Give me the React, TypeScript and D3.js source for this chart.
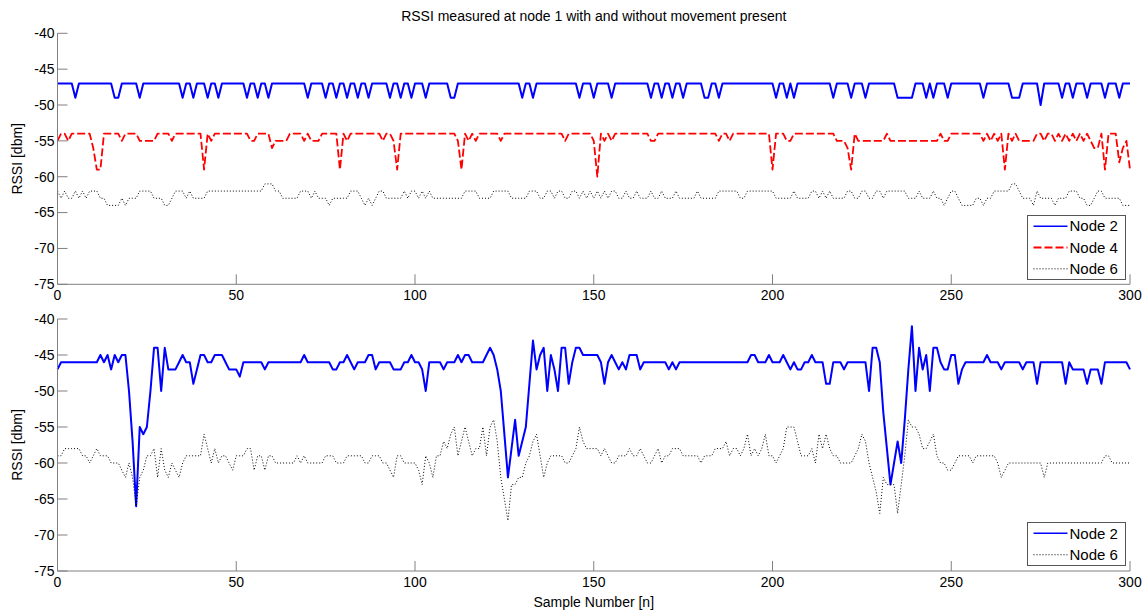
import React from 'react';
import * as d3 from 'd3';

const title = 'RSSI measured at node 1 with and without movement present';
const xTicks = [0, 50, 100, 150, 200, 250, 300];
const yTicks = [-40, -45, -50, -55, -60, -65, -70, -75];
const yLabel = 'RSSI [dbm]';
const xLabel = 'Sample Number [n]';

// Top panel (no movement)
const topNode2 = [
  -47,-47,-47,-47,-47,-49,-47,-47,-47,-47,
  -47,-47,-47,-47,-47,-47,-49,-49,-47,-47,
  -47,-47,-47,-49,-47,-47,-47,-47,-47,-47,
  -47,-47,-47,-47,-47,-49,-47,-47,-49,-47,
  -47,-47,-49,-47,-47,-49,-47,-47,-47,-47,
  -47,-47,-47,-49,-47,-47,-49,-47,-47,-49,
  -47,-47,-47,-47,-47,-47,-47,-47,-47,-47,
  -49,-47,-47,-47,-47,-49,-47,-47,-49,-47,
  -47,-49,-47,-47,-49,-47,-47,-49,-47,-47,
  -47,-47,-47,-49,-47,-47,-49,-47,-47,-49,
  -47,-47,-47,-49,-47,-47,-47,-47,-47,-47,
  -49,-49,-47,-47,-47,-47,-47,-47,-47,-47,
  -47,-47,-47,-47,-47,-47,-47,-47,-47,-47,
  -49,-47,-47,-49,-47,-47,-47,-47,-47,-47,
  -47,-47,-47,-47,-47,-47,-49,-47,-47,-47,
  -49,-47,-47,-47,-47,-49,-47,-47,-47,-47,
  -47,-47,-47,-47,-47,-47,-49,-47,-47,-49,
  -47,-47,-49,-47,-47,-49,-47,-47,-47,-47,
  -47,-49,-49,-47,-47,-49,-47,-47,-47,-47,
  -47,-47,-47,-47,-47,-47,-47,-47,-47,-47,
  -47,-49,-47,-47,-49,-47,-49,-47,-47,-47,
  -47,-47,-47,-47,-47,-47,-47,-49,-47,-47,
  -47,-47,-49,-47,-47,-47,-49,-47,-47,-47,
  -47,-47,-47,-47,-47,-49,-49,-49,-49,-49,
  -47,-47,-47,-49,-47,-49,-47,-47,-47,-49,
  -47,-47,-47,-47,-47,-47,-47,-47,-47,-49,
  -47,-47,-47,-47,-47,-47,-47,-49,-49,-49,
  -47,-47,-47,-47,-47,-50,-47,-47,-47,-47,
  -47,-49,-47,-47,-49,-47,-47,-47,-49,-47,
  -47,-47,-47,-49,-47,-47,-47,-49,-47,-47,
  -47,
];

const topNode4 = [
  -55,-54,-54,-55,-54,-54,-54,-54,-54,-54,
  -56,-59,-59,-54,-54,-54,-54,-54,-55,-54,
  -54,-54,-54,-55,-55,-55,-55,-55,-54,-54,
  -54,-54,-55,-54,-54,-54,-54,-54,-54,-54,
  -54,-59,-54,-55,-54,-54,-54,-54,-54,-54,
  -54,-54,-54,-54,-55,-55,-54,-54,-54,-54,
  -56,-55,-55,-55,-55,-54,-54,-54,-54,-55,
  -54,-55,-55,-55,-54,-54,-54,-54,-54,-59,
  -54,-55,-54,-54,-54,-54,-54,-54,-54,-54,
  -54,-55,-54,-54,-55,-59,-54,-54,-54,-54,
  -54,-54,-54,-54,-54,-54,-54,-54,-54,-54,
  -54,-54,-55,-59,-54,-55,-54,-55,-54,-54,
  -54,-54,-54,-54,-55,-54,-54,-54,-54,-54,
  -54,-54,-54,-54,-54,-54,-54,-54,-54,-54,
  -54,-54,-55,-54,-54,-54,-54,-54,-54,-54,
  -55,-60,-54,-55,-54,-55,-54,-54,-54,-54,
  -54,-54,-54,-54,-54,-54,-55,-55,-54,-54,
  -54,-54,-54,-54,-54,-54,-54,-54,-54,-54,
  -54,-54,-54,-54,-54,-55,-54,-54,-55,-54,
  -54,-54,-54,-54,-54,-54,-54,-54,-54,-54,
  -59,-54,-54,-54,-55,-55,-54,-54,-54,-54,
  -54,-54,-54,-54,-54,-54,-54,-54,-55,-55,
  -55,-56,-59,-54,-55,-55,-55,-55,-55,-55,
  -55,-55,-54,-55,-55,-55,-55,-55,-55,-55,
  -55,-55,-55,-55,-55,-55,-55,-54,-55,-55,
  -54,-54,-54,-54,-54,-54,-54,-54,-54,-55,
  -54,-55,-54,-55,-54,-59,-54,-55,-54,-55,
  -55,-55,-55,-55,-54,-54,-55,-54,-54,-55,
  -54,-55,-54,-55,-54,-55,-54,-55,-54,-55,
  -56,-56,-54,-59,-54,-54,-54,-58,-56,-55,
  -59,
];

const topNode6 = [
  -62,-63,-62,-63,-63,-62,-63,-62,-63,-62,
  -62,-62,-63,-63,-64,-64,-64,-64,-63,-64,
  -63,-63,-63,-62,-62,-62,-62,-63,-63,-63,
  -64,-64,-63,-62,-62,-62,-63,-62,-63,-63,
  -63,-63,-62,-62,-62,-62,-62,-62,-62,-62,
  -62,-62,-62,-62,-62,-62,-62,-62,-61,-61,
  -61,-62,-62,-63,-63,-63,-63,-63,-62,-62,
  -62,-63,-62,-63,-63,-63,-64,-63,-63,-63,
  -63,-63,-62,-62,-62,-63,-64,-63,-64,-63,
  -62,-62,-63,-63,-63,-63,-63,-62,-63,-62,
  -62,-63,-62,-63,-62,-63,-63,-63,-63,-63,
  -63,-63,-63,-63,-62,-62,-62,-62,-63,-63,
  -63,-63,-62,-62,-62,-62,-62,-63,-63,-63,
  -63,-63,-62,-62,-62,-63,-63,-62,-62,-63,
  -62,-62,-63,-63,-62,-62,-63,-62,-63,-62,
  -63,-62,-63,-62,-63,-62,-62,-63,-63,-62,
  -63,-63,-62,-63,-63,-63,-62,-63,-63,-62,
  -63,-63,-63,-62,-63,-63,-63,-63,-63,-62,
  -63,-63,-63,-63,-63,-62,-62,-62,-62,-62,
  -62,-63,-63,-62,-62,-62,-62,-62,-62,-62,
  -62,-63,-63,-63,-63,-63,-62,-63,-63,-63,
  -63,-62,-62,-63,-62,-63,-62,-63,-63,-63,
  -63,-62,-62,-63,-63,-62,-62,-63,-63,-62,
  -62,-63,-62,-62,-62,-62,-62,-62,-63,-63,
  -63,-62,-63,-63,-63,-62,-63,-63,-64,-63,
  -62,-62,-63,-64,-64,-64,-64,-63,-63,-64,
  -63,-63,-62,-62,-62,-62,-62,-61,-61,-62,
  -63,-63,-63,-64,-62,-63,-63,-63,-63,-64,
  -63,-63,-63,-62,-62,-62,-63,-63,-64,-64,
  -63,-62,-62,-63,-63,-63,-63,-63,-64,-64,
  -64,
];

// Bottom panel (movement present)
const bottomNode2 = [
  -47,-46,-46,-46,-46,-46,-46,-46,-46,-46,
  -46,-46,-45,-46,-45,-47,-45,-46,-45,-45,
  -50,-57,-66,-55,-56,-55,-50,-44,-44,-50,
  -44,-47,-47,-47,-46,-45,-46,-46,-49,-47,
  -45,-45,-46,-46,-45,-45,-45,-46,-47,-47,
  -47,-48,-46,-46,-46,-46,-46,-46,-47,-46,
  -46,-46,-46,-46,-46,-46,-46,-46,-46,-45,
  -46,-46,-46,-46,-46,-46,-46,-47,-47,-46,
  -46,-45,-46,-47,-46,-46,-46,-45,-45,-47,
  -46,-46,-46,-46,-47,-47,-47,-46,-46,-45,
  -46,-46,-47,-50,-46,-46,-46,-46,-47,-46,
  -46,-46,-45,-46,-45,-45,-46,-46,-46,-46,
  -45,-44,-45,-47,-50,-56,-62,-58,-54,-59,
  -57,-55,-49,-43,-47,-45,-44,-50,-45,-47,
  -50,-44,-44,-49,-46,-44,-44,-45,-45,-45,
  -45,-45,-46,-49,-46,-45,-46,-47,-46,-47,
  -45,-45,-45,-47,-46,-46,-46,-46,-46,-46,
  -46,-47,-46,-47,-46,-46,-46,-46,-46,-46,
  -46,-46,-46,-46,-46,-46,-46,-46,-46,-46,
  -46,-46,-46,-46,-45,-45,-46,-46,-46,-45,
  -46,-46,-46,-45,-46,-47,-46,-47,-47,-46,
  -46,-45,-46,-46,-46,-49,-49,-46,-46,-46,
  -47,-46,-46,-46,-46,-46,-46,-50,-44,-44,
  -46,-53,-58,-63,-60,-57,-60,-54,-47,-41,
  -50,-44,-47,-45,-50,-44,-44,-46,-47,-47,
  -45,-45,-49,-47,-46,-46,-46,-46,-46,-46,
  -45,-46,-46,-46,-47,-46,-46,-46,-46,-46,
  -47,-46,-46,-46,-49,-46,-46,-46,-46,-46,
  -46,-46,-49,-46,-47,-47,-47,-47,-49,-47,
  -47,-47,-49,-46,-46,-46,-46,-46,-46,-46,
  -47,
];

const bottomNode6 = [
  -59,-59,-58,-58,-58,-58,-58,-59,-59,-60,
  -59,-58,-59,-59,-59,-60,-60,-60,-61,-62,
  -60,-62,-66,-62,-61,-59,-59,-58,-62,-58,
  -61,-62,-60,-61,-62,-60,-59,-59,-59,-59,
  -59,-56,-58,-60,-58,-60,-59,-59,-60,-61,
  -59,-59,-59,-58,-58,-61,-59,-59,-61,-59,
  -59,-60,-60,-60,-60,-60,-60,-59,-60,-59,
  -60,-60,-60,-60,-60,-59,-59,-59,-60,-60,
  -60,-59,-59,-59,-59,-59,-60,-60,-59,-59,
  -59,-60,-60,-61,-62,-59,-59,-60,-60,-60,
  -60,-61,-63,-59,-60,-62,-59,-59,-57,-58,
  -56,-55,-59,-57,-55,-57,-59,-58,-58,-55,
  -59,-55,-54,-57,-62,-65,-68,-63,-63,-62,
  -62,-60,-59,-57,-56,-59,-62,-60,-59,-59,
  -59,-59,-60,-60,-59,-58,-55,-57,-58,-58,
  -58,-58,-59,-58,-59,-60,-60,-59,-59,-59,
  -58,-59,-59,-58,-59,-60,-60,-59,-58,-60,
  -59,-59,-58,-58,-58,-59,-59,-59,-59,-59,
  -60,-59,-59,-59,-58,-58,-58,-57,-59,-58,
  -58,-59,-58,-56,-59,-58,-59,-58,-56,-59,
  -59,-60,-59,-58,-55,-55,-55,-57,-59,-59,
  -59,-58,-60,-56,-58,-56,-58,-59,-59,-60,
  -60,-60,-60,-59,-58,-56,-57,-60,-62,-64,
  -67,-62,-63,-63,-63,-67,-63,-59,-54,-55,
  -55,-56,-58,-58,-57,-56,-59,-60,-60,-61,
  -61,-60,-59,-59,-59,-59,-60,-59,-59,-59,
  -59,-59,-59,-60,-62,-61,-60,-60,-60,-60,
  -60,-60,-60,-60,-60,-60,-62,-60,-60,-60,
  -60,-60,-60,-60,-60,-60,-60,-60,-60,-60,
  -60,-60,-60,-59,-59,-60,-60,-60,-60,-60,
  -60,
];

type Series = { name: string; values: number[]; color: string; width: number; dash?: string };

const topSeries: Series[] = [
  { name: 'Node 2', values: topNode2, color: '#0000ff', width: 2 },
  { name: 'Node 4', values: topNode4, color: '#ff0000', width: 1.8, dash: '8,3' },
  { name: 'Node 6', values: topNode6, color: '#000000', width: 1, dash: '1,2' },
];
const bottomSeries: Series[] = [
  { name: 'Node 2', values: bottomNode2, color: '#0000ff', width: 2 },
  { name: 'Node 6', values: bottomNode6, color: '#000000', width: 1, dash: '1,2' },
];

const FONT = 'Liberation Sans, Arial, Helvetica, sans-serif';
const AXIS = '#808080';
const X0 = 57.5;
const X1 = 1130;

function Panel({ yTop, yBottom, series, legend, showXLabel }: {
  yTop: number; yBottom: number; series: Series[];
  legend: { x: number; y: number; w: number; h: number }; showXLabel: boolean;
}) {
  const x = d3.scaleLinear().domain([0, 300]).range([X0, X1]);
  const y = d3.scaleLinear().domain([-75, -40]).range([yBottom, yTop]);
  const line = d3.line<number>().x((_, i) => x(i)).y((d) => y(d));
  const tickLen = 10;
  const rowH = legend.h / series.length;
  return (
    <g>
      {series.map((s) => (
        <path key={s.name} d={line(s.values) || ''} fill="none" stroke={s.color}
          strokeWidth={s.width} strokeDasharray={s.dash} strokeLinejoin="round" />
      ))}
      <line x1={X0} x2={X0} y1={yTop} y2={yBottom} stroke={AXIS} strokeWidth={1} />
      <line x1={X0} x2={X1} y1={yBottom} y2={yBottom} stroke={AXIS} strokeWidth={1} />
      {yTicks.map((t) => (
        <g key={'y' + t}>
          <line x1={X0} x2={X0 + tickLen} y1={y(t)} y2={y(t)} stroke={AXIS} />
          <text x={X0 - 3} y={y(t)} dy="0.35em" textAnchor="end" fontSize={14} fontFamily={FONT} fill="#000">{t}</text>
        </g>
      ))}
      {xTicks.map((t) => (
        <g key={'x' + t}>
          <line x1={x(t)} x2={x(t)} y1={yBottom} y2={yBottom - tickLen} stroke={AXIS} />
          <text x={x(t)} y={yBottom + 16} textAnchor="middle" fontSize={14} fontFamily={FONT} fill="#000">{t}</text>
        </g>
      ))}
      <text transform={`translate(22,${(yTop + yBottom) / 2}) rotate(-90)`} textAnchor="middle"
        fontSize={14} fontFamily={FONT} fill="#000">{yLabel}</text>
      {showXLabel && (
        <text x={(X0 + X1) / 2} y={yBottom + 36} textAnchor="middle" fontSize={14} fontFamily={FONT} fill="#000">{xLabel}</text>
      )}
      <rect x={legend.x} y={legend.y} width={legend.w} height={legend.h} fill="#fff" stroke="#555" strokeWidth={1} />
      {series.map((s, i) => {
        const cy = legend.y + rowH * (i + 0.5);
        return (
          <g key={'lg' + s.name}>
            <line x1={legend.x + 6} x2={legend.x + 40} y1={cy} y2={cy} stroke={s.color}
              strokeWidth={s.width === 2 ? 1.5 : s.width} strokeDasharray={s.dash} />
            <text x={legend.x + 42} y={cy} dy="0.35em" fontSize={15} fontFamily={FONT} fill="#000">{s.name}</text>
          </g>
        );
      })}
    </g>
  );
}

export default function App() {
  return (
    <svg width={1148} height={611} style={{ position: 'absolute', left: 0, top: 0, background: '#fff' }}>
      <rect x={0} y={0} width={1148} height={611} fill="#fff" />
      <text x={(X0 + X1) / 2} y={21} textAnchor="middle" fontSize={14} fontFamily={FONT} fill="#000">{title}</text>
      <Panel yTop={33.3} yBottom={284.3} series={topSeries}
        legend={{ x: 1027.5, y: 215.5, w: 98, h: 64 }} showXLabel={false} />
      <Panel yTop={319} yBottom={571} series={bottomSeries}
        legend={{ x: 1027.5, y: 522.5, w: 98, h: 43 }} showXLabel={true} />
    </svg>
  );
}
